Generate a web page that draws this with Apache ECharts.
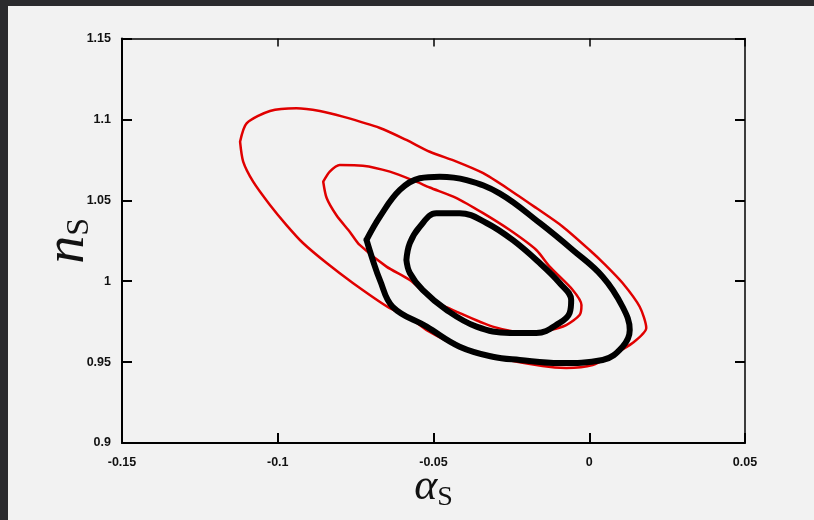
<!DOCTYPE html>
<html>
<head>
<meta charset="utf-8">
<script src="https://cdn.jsdelivr.net/npm/echarts@6/dist/echarts.min.js"></script>
<style>
  html, body { margin: 0; padding: 0; background: #2b2b2e; width: 814px; height: 520px; overflow: hidden; }
  #chart { position: absolute; left: 8px; top: 6px; width: 806px; height: 514px; background: #f2f2f2; }
</style>
</head>
<body>
<div id="chart"></div>
<script>
// Axis ranges and tick labels
const xTicks = [-0.15, -0.1, -0.05, 0, 0.05];
const yTicks = [0.9, 0.95, 1, 1.05, 1.1, 1.15];

// Confidence contours in the (alpha_S, n_S) plane: [alpha_S, n_S]
const redOuter = [
  [-0.1121, 1.0862], [-0.1100, 1.0976], [-0.1025, 1.1052], [-0.0940, 1.1069],
  [-0.0865, 1.1052], [-0.0791, 1.1017], [-0.0672, 1.0947], [-0.0587, 1.0873],
  [-0.0512, 1.0800], [-0.0426, 1.0739], [-0.0342, 1.0669], [-0.0255, 1.0564],
  [-0.0170, 1.0452], [-0.0085, 1.0337], [0.0001, 1.0193], [0.0049, 1.0106],
  [0.0107, 0.9989], [0.0162, 0.9842], [0.0183, 0.9711], [0.0139, 0.9618],
  [0.0075, 0.9544], [0.0011, 0.9482], [-0.0074, 0.9464], [-0.0150, 0.9476],
  [-0.0310, 0.9533], [-0.0416, 0.9595], [-0.0522, 0.9698], [-0.0576, 0.9773],
  [-0.0647, 0.9841], [-0.0759, 0.9989], [-0.0843, 1.0112], [-0.0919, 1.0236],
  [-0.0972, 1.0347], [-0.1025, 1.0471], [-0.1079, 1.0615], [-0.1111, 1.0739],
  [-0.1121, 1.0862]
];
const redInner = [
  [-0.0854, 1.0615], [-0.0833, 1.0677], [-0.0801, 1.0718], [-0.0727, 1.0714],
  [-0.0640, 1.0677], [-0.0555, 1.0615], [-0.0512, 1.0579], [-0.0426, 1.0514],
  [-0.0342, 1.0422], [-0.0255, 1.0316], [-0.0170, 1.0193], [-0.0127, 1.0090],
  [-0.0053, 0.9946], [-0.0025, 0.9853], [-0.0031, 0.9791], [-0.0074, 0.9729],
  [-0.0127, 0.9698], [-0.0201, 0.9680], [-0.0310, 0.9719], [-0.0416, 0.9803],
  [-0.0502, 0.9884], [-0.0576, 1.0007], [-0.0651, 1.0090], [-0.0737, 1.0224],
  [-0.0769, 1.0306], [-0.0811, 1.0406], [-0.0843, 1.0514], [-0.0854, 1.0615]
];
const blackOuter = [
  [-0.0715, 1.0255], [-0.0672, 1.0399], [-0.0608, 1.0564], [-0.0544, 1.0636],
  [-0.0480, 1.0646], [-0.0394, 1.0625], [-0.0288, 1.0543], [-0.0159, 1.0360],
  [-0.0053, 1.0193], [0.0043, 1.0028], [0.0107, 0.9842], [0.0130, 0.9698],
  [0.0107, 0.9595], [0.0043, 0.9513], [-0.0095, 0.9494], [-0.0223, 0.9513],
  [-0.0310, 0.9533], [-0.0416, 0.9595], [-0.0522, 0.9719], [-0.0631, 0.9842],
  [-0.0672, 1.0007], [-0.0695, 1.0131], [-0.0715, 1.0255]
];
const blackInner = [
  [-0.0587, 1.0131], [-0.0576, 1.0236], [-0.0544, 1.0337], [-0.0491, 1.0420],
  [-0.0416, 1.0420], [-0.0330, 1.0360], [-0.0246, 1.0255], [-0.0159, 1.0112],
  [-0.0095, 0.9989], [-0.0058, 0.9884], [-0.0063, 0.9803], [-0.0095, 0.9742],
  [-0.0170, 0.9680], [-0.0255, 0.9680], [-0.0362, 0.9719], [-0.0458, 0.9822],
  [-0.0535, 0.9946], [-0.0576, 1.0051], [-0.0587, 1.0131]
];

const labelFont = { fontFamily: 'Liberation Sans, Arial, sans-serif', fontWeight: 'bold', fontSize: 12.5, color: '#111' };

function frameAxis(extra) {
  return Object.assign({
    type: 'value',
    axisLine: { show: true, onZero: false, lineStyle: { color: '#000', width: 2 } },
    axisTick: { show: true, inside: true, length: 10, lineStyle: { color: '#000', width: 2 } },
    splitLine: { show: false },
    axisLabel: Object.assign({ show: true, margin: 11 }, labelFont)
  }, extra);
}

function contour(data, color, width, smooth, z) {
  return {
    type: 'line', data: data, showSymbol: false, smooth: smooth, z: z,
    lineStyle: { color: color, width: width, cap: 'round', join: 'round' },
    silent: true
  };
}

const chart = echarts.init(document.getElementById('chart'), null, { renderer: 'canvas' });
chart.setOption({
  animation: false,
  backgroundColor: '#f2f2f2',
  grid: { left: 114, right: 69, top: 32.5, bottom: 77, outerBoundsMode: 'none', containLabel: false },
  xAxis: [
    frameAxis({
      position: 'bottom', min: xTicks[0], max: xTicks[xTicks.length - 1], interval: 0.05,
      axisLabel: Object.assign({ show: true, margin: 13 }, labelFont),
      name: '{a|α}{b|S}', nameLocation: 'middle', nameGap: 19, nameMoveOverlap: false,
      nameTextStyle: {
        rich: {
          a: { fontFamily: 'Liberation Serif, serif', fontStyle: 'italic', fontSize: 44, color: '#111' },
          b: { fontFamily: 'Liberation Serif, serif', fontSize: 28, color: '#111', padding: [22, 0, 0, 0] }
        }
      }
    }),
    frameAxis({
      position: 'top', min: xTicks[0], max: xTicks[xTicks.length - 1], interval: 0.05,
      axisLine: { show: true, onZero: false, lineStyle: { color: '#000', width: 1.5 } },
      axisTick: { show: true, inside: true, length: 8, lineStyle: { color: '#000', width: 1.5 } },
      axisLabel: { show: false }
    })
  ],
  yAxis: [
    frameAxis({
      position: 'left', min: yTicks[0], max: yTicks[yTicks.length - 1], interval: 0.05,
      name: '{a|n}{b|S}', nameLocation: 'middle', nameGap: 26, nameRotate: 90, nameMoveOverlap: false,
      nameTextStyle: {
        rich: {
          a: { fontFamily: 'Liberation Serif, serif', fontStyle: 'italic', fontSize: 56, color: '#111' },
          b: { fontFamily: 'Liberation Serif, serif', fontSize: 32, color: '#111', padding: [24, 0, 0, 0] }
        }
      }
    }),
    frameAxis({
      position: 'right', min: yTicks[0], max: yTicks[yTicks.length - 1], interval: 0.05,
      axisLine: { show: true, onZero: false, lineStyle: { color: '#000', width: 1.5 } },
      axisTick: { show: true, inside: true, length: 10, lineStyle: { color: '#000', width: 2 } },
      axisLabel: { show: false }
    })
  ],
  series: [
    contour(redOuter, '#e00000', 2.5, 0.25, 2),
    contour(redInner, '#e00000', 2.5, 0.25, 2),
    contour(blackOuter, '#000000', 6, 0.4, 3),
    contour(blackInner, '#000000', 6, 0.4, 3)
  ]
});
</script>
</body>
</html>
